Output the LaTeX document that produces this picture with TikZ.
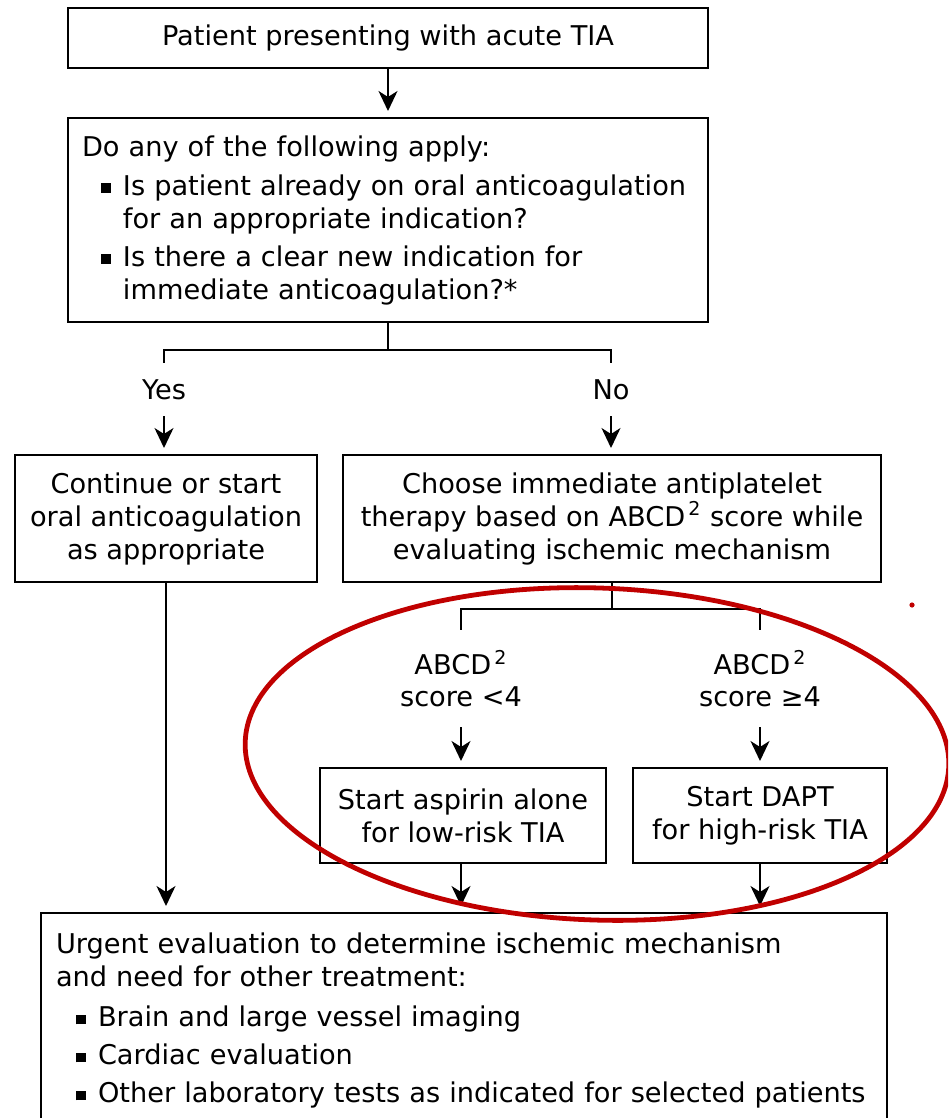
\documentclass[tikz,border=0pt]{standalone}
\usepackage{fontspec}
\setmainfont{DejaVu Sans}
\usetikzlibrary{arrows.meta}
\usetikzlibrary{calc}
\definecolor{markred}{RGB}{192,0,0}
\newcommand{\sqbullet}{\rule[1.2pt]{4.8pt}{4.8pt}}

\begin{document}
\begin{tikzpicture}[x=0.5pt, y=-0.5pt,
    box/.style={rectangle, draw, line width=1pt, inner sep=0pt, align=center,
      font=\fontsize{13.6}{16.5}\selectfont},
    lbl/.style={inner sep=0pt, align=center, font=\fontsize{13.6}{16}\selectfont},
    ln/.style={line width=1pt},
    arr/.style={ln, -{Stealth[length=10pt, width=9.5pt, inset=3pt]}, shorten >=3pt}]
      \clip (0, 0) rectangle (948, 1118);
      \fill[white] (0, 0) rectangle (948, 1118);

      \node[box, minimum width=320pt, minimum height=30pt] (top) at (388, 38) {Patient presenting with acute TIA};
      \node[box, minimum width=320pt, minimum height=102pt, inner xsep=7pt, text width=306pt, align=left] (apply) at (388, 220)
        {Do any of the following apply:\\[3pt]
         \hspace*{9.5pt}\sqbullet\hspace{6.2pt}Is patient already on oral anticoagulation\\
         \hspace*{20.5pt}for an appropriate indication?\\[2.5pt]
         \hspace*{9.5pt}\sqbullet\hspace{6.2pt}Is there a clear new indication for\\
         \hspace*{20.5pt}immediate anticoagulation?*};

      \node[lbl, minimum height=26.5pt] (yes) at (164, 389.5) {Yes};
      \node[lbl, minimum height=26.5pt] (no) at (611, 389.5) {No};

      \node[box, minimum width=151pt, minimum height=63.5pt] (cont) at (166, 518.5)
        {Continue or start\\ oral anticoagulation\\ as appropriate};
      \node[box, minimum width=269pt, minimum height=63.5pt] (anti) at (612, 518.5)
        {Choose immediate antiplatelet\\ therapy based on ABCD\textsuperscript{\,2} score while\\ evaluating ischemic mechanism};

      \node[lbl, minimum height=48.5pt] (low) at (461, 678.5) {ABCD\textsuperscript{\,2}\\ score <4};
      \node[lbl, minimum height=48.5pt] (high) at (760, 678.5) {ABCD\textsuperscript{\,2}\\ score ≥4};

      \node[box, minimum width=143pt, minimum height=47.5pt] (asp) at (463, 815.5)
        {Start aspirin alone\\ for low-risk TIA};
      \node[box, minimum width=127pt, minimum height=47.5pt] (dapt) at (760, 815.5)
        {Start DAPT\\ for high-risk TIA};

      \node[box, anchor=north west, minimum width=423pt, inner xsep=7.5pt, inner ysep=10pt, text width=408pt, align=left] (eval) at (40, 912)
        {Urgent evaluation to determine ischemic mechanism\\
         and need for other treatment:\\[3.5pt]
         \hspace*{10pt}\sqbullet\hspace{6.2pt}Brain and large vessel imaging\\[2.5pt]
         \hspace*{10pt}\sqbullet\hspace{6.2pt}Cardiac evaluation\\[2.5pt]
         \hspace*{10pt}\sqbullet\hspace{6.2pt}Other laboratory tests as indicated for selected patients};

      \draw[arr] (top) -- (apply);
      \draw[ln] (apply.south) -- ++(0, 27) -| (yes.north);
      \draw[ln] (apply.south) -- ++(0, 27) -| (no.north);
      \draw[arr] (yes.south) -- (yes.south |- cont.north);
      \draw[arr] (no.south) -- (no.south |- anti.north);

      \draw[ln] (anti.south) -- ++(0, 26) -| (low.north);
      \draw[ln] (anti.south) -- ++(0, 26) -| (high.north);
      \draw[arr] (low.south) -- (low.south |- asp.north);
      \draw[arr] (high.south) -- (high.south |- dapt.north);

      \draw[arr] (cont.south) -- (cont.south |- eval.north);
      \draw[arr] (asp.south -| low.south) -- (low.south |- eval.north);
      \draw[arr] (dapt.south) -- (dapt.south |- eval.north);

      \draw[markred, line width=2.4pt] (597, 754) ellipse [x radius=176pt, y radius=83pt, rotate=-2];
      \fill[markred] (912, 605) circle [radius=1.3pt];
    \end{tikzpicture}
\end{document}
